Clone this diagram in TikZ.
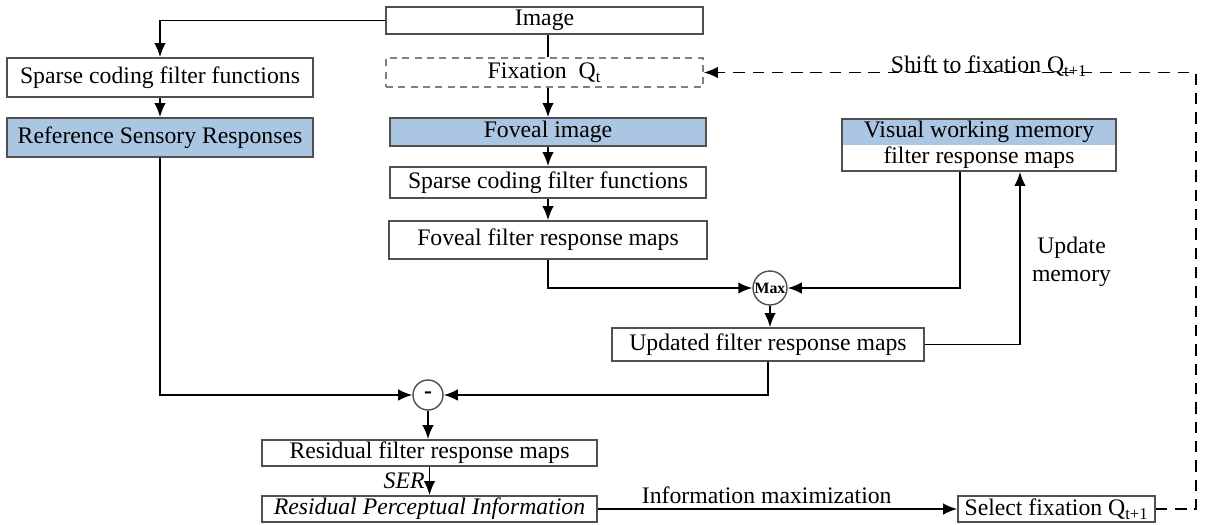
\documentclass[tikz,border=0pt]{standalone}
\usepackage{fontspec}
\setmainfont{Liberation Serif}
\usetikzlibrary{arrows.meta,shapes.multipart}
\definecolor{fovblue}{RGB}{170,198,227}
\definecolor{boxgray}{RGB}{80,80,80}
\tikzset{
  box/.style={draw=boxgray, line width=0.9pt, inner sep=0pt, align=center},
  op/.style={circle, draw=boxgray, line width=0.8pt, inner sep=0pt, fill=white},
  loopline/.style={dash pattern=on 6.5pt off 4.5pt, line width=1pt}
}
\begin{document}
\begin{tikzpicture}[x=0.02cm, y=-0.02cm, >={Latex[length=8pt,width=6.5pt]}, line width=1pt,
    font=\fontsize{13.5}{16}\selectfont]
  \useasboundingbox (0,0) rectangle (1210,524);
  % foveal path (centre column)
  \node[box, minimum width=6.34cm, minimum height=0.54cm] (image) at (544.5,20.5) {Image};
  \node[box, draw=gray, dash pattern=on 4pt off 3pt, minimum width=6.34cm, minimum height=0.58cm] (fix) at (544.5,72.5) {Fixation\ \ Q\textsubscript{t}};
  \node[box, fill=fovblue, minimum width=6.32cm, minimum height=0.56cm] (fov) at (548,132) {Foveal image};
  \node[box, minimum width=6.32cm, minimum height=0.62cm] (sparseR) at (548,182.5) {Sparse coding filter functions};
  \node[box, minimum width=6.36cm, minimum height=0.76cm] (fovmap) at (548,240) {Foveal filter response maps};
  \node[op, minimum size=0.68cm] (max) at (770,288) {\bfseries\fontsize{9}{9}\selectfont Max};
  \node[box, minimum width=6.24cm, minimum height=0.66cm] (upd) at (768,344.5) {Updated filter response maps};
  % memory
  \node[box, rectangle split, rectangle split parts=2, rectangle split draw splits=false,
    rectangle split part fill={fovblue,white}, inner ysep=0.8pt, minimum width=5.48cm] (vwm) at (979,145)
    {Visual working memory\nodepart{two}filter response maps};
  % reference path (left column)
  \node[box, minimum width=6.12cm, minimum height=0.78cm] (sparseL) at (160,77.5) {Sparse coding filter functions};
  \node[box, fill=fovblue, minimum width=6.12cm, minimum height=0.78cm] (ref) at (160,137.5) {Reference Sensory Responses};
  % residual
  \node[op, minimum size=0.6cm] (minus) at (428,395) {\bfseries -};
  \node[box, minimum width=6.7cm, minimum height=0.52cm] (resmap) at (429.5,453) {Residual filter response maps};
  \node[box, minimum width=6.7cm, minimum height=0.52cm] (resinfo) at (429.5,509) {\itshape Residual Perceptual Information};
  \node[box, minimum width=3.94cm, minimum height=0.52cm] (sel) at (1056.5,509) {Select fixation Q\textsubscript{t+1}};

  \draw[->] (image.west) -| (sparseL.north);
  \draw (image.south -| fov.north) -- (fix.north -| fov.north);
  \draw[->] (fix.south -| fov.north) -- (fov.north);
  \draw[->] (fov) -- (sparseR);
  \draw[->] (sparseR) -- (fovmap);
  \draw[->] (fovmap) |- (max);
  \draw[->] ([xshift=-0.38cm]vwm.south) |- (max);
  \draw[->] (max) -- (max |- upd.north);
  \draw[->] (upd.east) -| ([xshift=0.82cm]vwm.south) node[pos=0.74, right=3pt, align=center] {Update\\memory};
  \draw[->] (upd) |- (minus);
  \draw[->] (sparseL) -- (ref);
  \draw[->] (ref) |- (minus);
  \draw[->] (minus) -- (minus |- resmap.north);
  \draw[->] (resmap) -- (resinfo) node[midway, left=-1pt] {\itshape SER};
  \draw[->] (resinfo) -- (sel) node[pos=0.47, above=-1pt] {Information maximization};
  \draw[->, loopline] (sel.east) -- ++(40,0) |- (fix.east)
    node[pos=0.71, anchor=base] {Shift to fixation Q\textsubscript{t+1}};
\end{tikzpicture}
\end{document}
